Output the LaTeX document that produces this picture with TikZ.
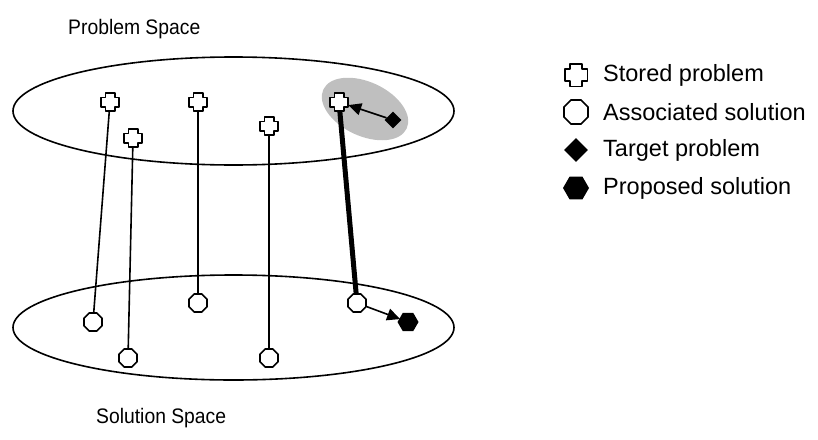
\documentclass[tikz,border=0pt]{standalone}
\usepackage{fontspec}
\setmainfont{Liberation Sans}
\usetikzlibrary{shapes.geometric,arrows.meta,backgrounds}
\tikzset{
  plusshape/.style={rectangle, draw=none, minimum size=#1, inner sep=0pt,
    path picture={
      \pgfmathsetmacro{\L}{#1/2-1.2}
      \pgfmathsetmacro{\W}{#1/4-0.3}
      \draw[fill=white, line width=1.6pt, line join=round, shift={(path picture bounding box.center)}]
        (-\W pt,\L pt) -- (\W pt,\L pt) -- (\W pt,\W pt) -- (\L pt,\W pt) -- (\L pt,-\W pt) -- (\W pt,-\W pt)
        -- (\W pt,-\L pt) -- (-\W pt,-\L pt) -- (-\W pt,-\W pt) -- (-\L pt,-\W pt) -- (-\L pt,\W pt) -- (-\W pt,\W pt) -- cycle;
    }},
  stored/.style={plusshape=20},
  octa/.style={regular polygon, regular polygon sides=8, draw, fill=white, line width=1.6pt, inner sep=0pt, minimum size=#1},
  solution/.style={octa=19.5},
  targ/.style={diamond, fill=black, inner sep=0pt, minimum width=#1, minimum height=#1},
  hexa/.style={regular polygon, regular polygon sides=6, fill=black, inner sep=0pt, minimum size=#1},
  link/.style={line width=1.6pt},
  thicklink/.style={line width=5pt},
  arrowlink/.style={line width=1.6pt, -{Triangle[length=13pt,width=12pt]}, shorten >=-1pt},
  space/.style={line width=1.6pt},
  lbl/.style={anchor=west, inner sep=0pt, font=\fontsize{21}{25}\selectfont},
  keylbl/.style={anchor=west, inner sep=0pt, font=\fontsize{23.5}{28}\selectfont},
}
\begin{document}
\begin{tikzpicture}[x=1pt,y=-1pt]
\useasboundingbox (0,0) rectangle (818,439);
% text labels
\node[lbl] (ps) at (68,29) {\scalebox{0.92}[1]{Problem Space}};
\node[lbl] (ss) at (96,418) {\scalebox{0.92}[1]{Solution Space}};
% stored problems
\node[stored] (p1) at (110,102) {};
\node[stored] (p2) at (133,138) {};
\node[stored] (p3) at (198,102) {};
\node[stored] (p4) at (269,126) {};
\node[stored] (p5) at (339,102) {};
% target problem
\node[targ=17] (t) at (393,120) {};
% associated solutions
\node[solution] (s1) at (93,322) {};
\node[solution] (s2) at (128,358) {};
\node[solution] (s3) at (198,303) {};
\node[solution] (s4) at (269,358) {};
\node[solution] (s5) at (357,303) {};
% proposed solution
\node[hexa=21] (h) at (408,322) {};
\begin{scope}[on background layer]
  \fill[black!25, rotate around={-25:(365,109)}] (365,109) ellipse [x radius=46, y radius=27];
  \draw[space] (233.5,111) ellipse [x radius=220.5, y radius=54];
  \draw[space] (233.5,327.5) ellipse [x radius=220.5, y radius=52.5];
  \draw[link] (p1.center) -- (s1.center);
  \draw[link] (p2.center) -- (s2.center);
  \draw[link] (p3.center) -- (s3.center);
  \draw[link] (p4.center) -- (s4.center);
  \draw[thicklink] (p5.center) -- (s5.center);
\end{scope}
\draw[arrowlink] (t) -- (p5);
\draw[arrowlink] (s5) -- (h);
% legend
\node[plusshape=25] (k1) at (576,75) {};
\node[octa=26] (k2) at (576,112) {};
\node[targ=24] (k3) at (576,150) {};
\node[hexa=26] (k4) at (576,188) {};
\node[keylbl] (l1) at (603,75) {Stored problem};
\node[keylbl] (l2) at (603,112) {Associated solution};
\node[keylbl] (l3) at (603,150) {Target problem};
\node[keylbl] (l4) at (603,188) {Proposed solution};
\end{tikzpicture}
\end{document}
